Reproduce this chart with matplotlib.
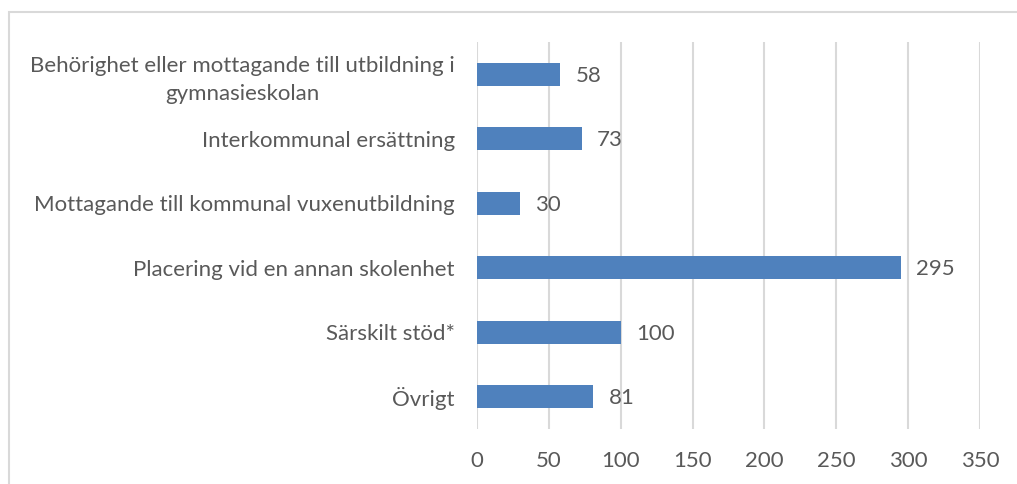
import matplotlib
matplotlib.use("Agg")
import matplotlib.pyplot as plt
from matplotlib.patches import Rectangle

categories = [
    "Behörighet eller mottagande till utbildning i\ngymnasieskolan",
    "Interkommunal ersättning",
    "Mottagande till kommunal vuxenutbildning",
    "Placering vid en annan skolenhet",
    "Särskilt stöd*",
    "Övrigt",
]
values = [58, 73, 30, 295, 100, 81]
xticks = [0, 50, 100, 150, 200, 250, 300, 350]

plt.rcParams['font.family'] = ['Lato', 'DejaVu Sans']
text_color = "#595959"
bar_color = "#4F81BD"
grid_color = "#D9D9D9"

W, H = 1017, 484
fig = plt.figure(figsize=(W / 100, H / 100), dpi=100)
ax = fig.add_axes([477 / W, 1 - 429 / H, (980 - 477) / W, (429 - 42) / H])

y = list(range(len(categories)))
ax.barh(y, values, height=0.36, color=bar_color, zorder=3)
for yi, v in zip(y, values):
    ax.annotate(str(v), (v, yi), xytext=(11, -1), textcoords="offset points",
                va="center", ha="left", fontsize=16, color=text_color)

ax.set_xlim(0, 350)
ax.set_ylim(len(categories) - 0.5, -0.5)
ax.set_xticks(xticks)
ax.set_xticklabels([str(t) for t in xticks])
ax.set_yticks(y)
ax.set_yticklabels(categories, ha="right", multialignment="center",
                   linespacing=1.5)
ax.tick_params(axis="both", length=0, colors=text_color, labelsize=16)
ax.tick_params(axis="x", pad=16)
ax.tick_params(axis="y", pad=16)
ax.xaxis.grid(True, color=grid_color, linewidth=1.5, zorder=0)
ax.yaxis.grid(False)
for s in ax.spines.values():
    s.set_visible(False)

fig.patches.append(Rectangle((9 / W, -0.1), 1.2, 1 - 12 / H + 0.1,
                             transform=fig.transFigure, fill=False,
                             edgecolor=grid_color, linewidth=1.5))

fig.savefig("out.png", dpi=100)
